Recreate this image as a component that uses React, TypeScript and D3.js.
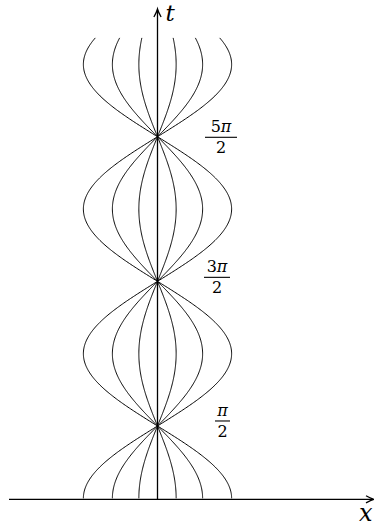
import React from 'react';
import * as d3 from 'd3';

// solution curves x = c·cos(t), one per amplitude
const amplitudes = [-1.61, -0.98, -0.405, 0.405, 0.98, 1.61];
const tRange = [0, 10];
const tTicks = [
  { t: Math.PI / 2, k: '', dy: -5, cx: 222.5, w: 15 },
  { t: (3 * Math.PI) / 2, k: '3', dy: -4, cx: 217, w: 26 },
  { t: (5 * Math.PI) / 2, k: '5', dy: 0.6, cx: 221, w: 32 },
];

const W = 374;
const H = 532;
const unit = 46.04;
const origin = { x: 157.5, y: 498.3 };
const serif = 'DejaVu Serif';

const App = () => {
  const x = d3.scaleLinear().domain([0, 1]).range([origin.x, origin.x + unit]);
  const y = d3.scaleLinear().domain([0, 1]).range([origin.y, origin.y - unit]);

  const ts = d3.range(tRange[0], tRange[1] + 1e-9, 0.02);

  const curve = (c: number) =>
    d3
      .line<number>()
      .x(t => x(c * Math.cos(t)))
      .y(t => y(t))(ts);

  const axisY = origin.y + 1;
  const tipX = W;
  const tipT = 9;

  return (
    <svg width={W} height={H} style={{ position: 'absolute', left: 0, top: 0, background: '#fff' }}>
      <g fill="none" stroke="#000" strokeWidth={1}>
        {amplitudes.map(c => (
          <path key={c} d={curve(c) || ''} />
        ))}
      </g>

      <g fill="none" stroke="#000" strokeWidth={1.3}>
        <line x1={9} y1={axisY} x2={tipX - 1} y2={axisY} />
        <path
          d={`M${tipX - 8},${axisY - 3.6} Q${tipX - 3},${axisY - 0.8} ${tipX},${axisY} Q${tipX - 3},${axisY + 0.8} ${tipX - 8},${axisY + 3.6}`}
        />
        <line x1={origin.x} y1={axisY} x2={origin.x} y2={tipT + 1} />
        <path
          d={`M${origin.x - 3.6},${tipT + 8} Q${origin.x - 0.8},${tipT + 3} ${origin.x},${tipT} Q${origin.x + 0.8},${tipT + 3} ${origin.x + 3.6},${tipT + 8}`}
        />
      </g>

      <g fill="#000">
        <text x={165.5} y={21} fontSize={23} fontStyle="italic" fontFamily={serif}>t</text>
        <text x={359} y={521} fontSize={24} fontStyle="italic" fontFamily={serif}>x</text>
        {tTicks.map(d => {
          const by = y(d.t) + d.dy;
          return (
            <g key={d.k}>
              <text x={d.cx} y={by - 5} fontSize={16} textAnchor="middle" fontFamily={serif}>
                {d.k}
                <tspan fontStyle="italic">π</tspan>
              </text>
              <line x1={d.cx - d.w / 2} x2={d.cx + d.w / 2} y1={by} y2={by} stroke="#000" strokeWidth={1.1} />
              <text x={d.cx} y={by + 16} fontSize={16} textAnchor="middle" fontFamily={serif}>2</text>
            </g>
          );
        })}
      </g>
    </svg>
  );
};

export default App;
